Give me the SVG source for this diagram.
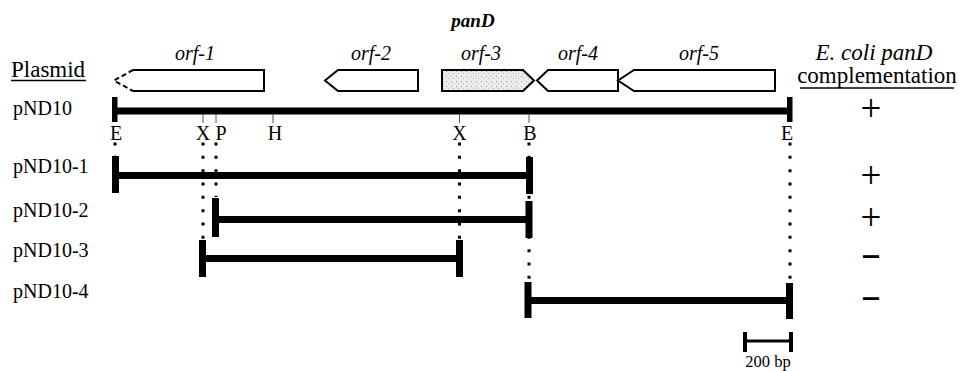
<svg xmlns="http://www.w3.org/2000/svg" width="962" height="371" viewBox="0 0 962 371">
  <defs>
    <pattern id="stipple" width="5" height="5" patternUnits="userSpaceOnUse">
      <rect width="5" height="5" fill="#ececec"/>
      <rect x="1" y="1" width="1" height="1" fill="#9a9a9a"/>
      <rect x="3" y="3" width="1" height="1" fill="#b5b5b5"/>
    </pattern>
    <style>
      text { font-family: "Liberation Serif", "Times New Roman", serif; fill: #000; }
      .hdr { font-size: 23px; }
      .orfl { font-size: 20px; font-style: italic; text-anchor: middle; }
      .lbl { font-size: 20px; }
      .site { font-size: 20px; text-anchor: middle; }
      .res { text-anchor: middle; }
      .plus { font-size: 37px; }
      .minus { font-size: 29px; stroke: #000; stroke-width: 1.2; }
      .orf { fill: #fff; stroke: #000; stroke-width: 2; stroke-linejoin: miter; }
      .orf.shaded { fill: url(#stipple); }
      .bar { stroke: #000; stroke-width: 7; }
      .cap { fill: #000; }
      .tick { stroke: #555; stroke-width: 1; }
      .guide { stroke: #000; stroke-width: 3; stroke-dasharray: 3 10.33; fill: none; }
      .uline { stroke: #000; stroke-width: 1.5; }
    </style>
  </defs>
  <rect width="962" height="371" fill="#fff"/>

  <!-- column headers -->
  <g id="headers">
    <text class="hdr" x="11" y="77">Plasmid</text>
    <line class="uline" x1="11" y1="80.5" x2="86" y2="80.5"/>
    <text class="hdr res" x="874" y="60" font-style="italic">E. coli panD</text>
    <text class="hdr res" x="877" y="83">complementation</text>
    <line class="uline" x1="800" y1="88" x2="954" y2="88"/>
  </g>

  <!-- open reading frames -->
  <g id="panD-label">
    <text x="473" y="27" font-size="19" font-weight="bold" font-style="italic" text-anchor="middle">panD</text>
  </g>
  <g id="orf-1">
    <text class="orfl" x="195" y="60">orf-1</text>
    <path class="orf" d="M133,70 H264 V91 H133"/>
    <path d="M133,70 L114,80.5 L133,91" fill="none" stroke="#000" stroke-width="2" stroke-dasharray="5 3"/>
  </g>
  <g id="orf-2">
    <text class="orfl" x="371" y="60">orf-2</text>
    <path class="orf" d="M325,80.5 L338,70 H418 V91 H338 Z"/>
  </g>
  <g id="orf-3">
    <text class="orfl" x="481" y="60">orf-3</text>
    <path class="orf shaded" d="M442,70 H523 L534,80.5 L523,91 H442 Z"/>
  </g>
  <g id="orf-4">
    <text class="orfl" x="578" y="60">orf-4</text>
    <path class="orf" d="M537,80.5 L548,70 H618 V91 H548 Z"/>
  </g>
  <g id="orf-5">
    <text class="orfl" x="699" y="60">orf-5</text>
    <path class="orf" d="M618,80.5 L634,70 H775 V91 H634 Z"/>
  </g>

  <!-- dotted guides from restriction sites -->
  <g id="connectors">
    <line class="guide" x1="115" y1="142.5" x2="115" y2="156"/>
    <line class="guide" x1="203" y1="142.5" x2="203" y2="240"/>
    <line class="guide" x1="216" y1="142.5" x2="216" y2="197"/>
    <line class="guide" x1="459.5" y1="142.5" x2="459.5" y2="240"/>
    <line class="guide" x1="529" y1="142.5" x2="529" y2="283"/>
    <line class="guide" x1="790" y1="142.5" x2="790" y2="283"/>
  </g>

  <!-- full insert with restriction map -->
  <g id="pND10">
    <text class="lbl" x="13" y="115">pND10</text>
    <line class="bar" x1="115" y1="111" x2="790" y2="111"/>
    <rect class="cap" x="112" y="97" width="5.5" height="25"/>
    <rect class="cap" x="787" y="97" width="5.5" height="25"/>
    <line class="tick" x1="203" y1="114" x2="203" y2="123"/>
    <line class="tick" x1="216" y1="114" x2="216" y2="123"/>
    <line class="tick" x1="273" y1="114" x2="273" y2="123"/>
    <line class="tick" x1="459.5" y1="114" x2="459.5" y2="123"/>
    <line class="tick" x1="529" y1="114" x2="529" y2="123"/>
    <text class="site" x="116" y="140">E</text>
    <text class="site" x="203" y="140">X</text>
    <text class="site" x="221" y="140">P</text>
    <text class="site" x="275" y="140">H</text>
    <text class="site" x="459.5" y="140">X</text>
    <text class="site" x="530" y="140">B</text>
    <text class="site" x="787" y="140">E</text>
    <text class="res plus" x="871" y="121">+</text>
  </g>

  <!-- deletion subclones -->
  <g id="pND10-1">
    <text class="lbl" x="13" y="173">pND10-1</text>
    <line class="bar" x1="115" y1="175.5" x2="529" y2="175.5"/>
    <rect class="cap" x="112" y="156" width="7" height="37"/>
    <rect class="cap" x="526" y="157" width="7" height="37"/>
    <text class="res plus" x="871" y="188">+</text>
  </g>
  <g id="pND10-2">
    <text class="lbl" x="13" y="217">pND10-2</text>
    <line class="bar" x1="216" y1="219.5" x2="529" y2="219.5"/>
    <rect class="cap" x="212" y="198" width="7" height="39"/>
    <rect class="cap" x="525.5" y="201" width="7" height="37"/>
    <text class="res plus" x="871" y="230">+</text>
  </g>
  <g id="pND10-3">
    <text class="lbl" x="13" y="257">pND10-3</text>
    <line class="bar" x1="203" y1="258.5" x2="459.5" y2="258.5"/>
    <rect class="cap" x="199" y="240" width="7" height="37"/>
    <rect class="cap" x="456" y="240" width="7" height="37"/>
    <text class="res minus" x="871" y="264">–</text>
  </g>
  <g id="pND10-4">
    <text class="lbl" x="13" y="298">pND10-4</text>
    <line class="bar" x1="529" y1="300.5" x2="790" y2="300.5"/>
    <rect class="cap" x="524.5" y="282" width="7" height="36"/>
    <rect class="cap" x="786" y="283" width="7" height="36"/>
    <text class="res minus" x="871" y="306">–</text>
  </g>

  <!-- scale bar -->
  <g id="scale-bar">
    <line x1="745" y1="341" x2="791" y2="341" stroke="#000" stroke-width="3"/>
    <rect class="cap" x="743" y="332" width="4" height="20"/>
    <rect class="cap" x="789" y="332" width="4" height="20"/>
    <text x="768" y="367" font-size="16.5" text-anchor="middle">200 bp</text>
  </g>
</svg>
